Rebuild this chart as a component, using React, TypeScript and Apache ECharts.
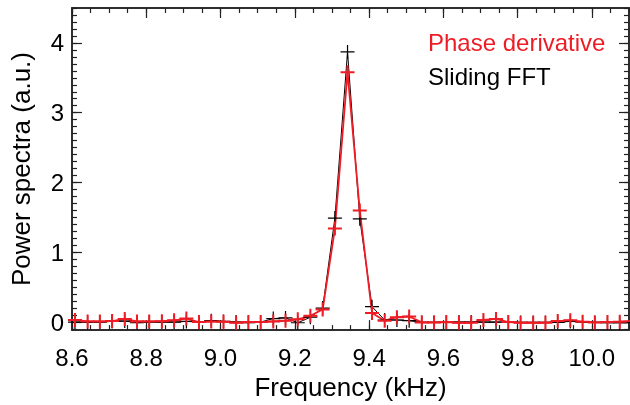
import React, { useEffect, useRef } from "react";
import * as echarts from "echarts";

// Frequency grid (kHz)
const freq = [
  8.608, 8.642, 8.675, 8.708, 8.742, 8.775, 8.808, 8.842, 8.875, 8.908,
  8.942, 8.975, 9.008, 9.042, 9.075, 9.108, 9.142, 9.175, 9.208, 9.242,
  9.275, 9.308, 9.342, 9.375, 9.408, 9.442, 9.475, 9.508, 9.542, 9.575,
  9.608, 9.642, 9.675, 9.708, 9.742, 9.775, 9.808, 9.842, 9.875, 9.908,
  9.942, 9.975, 10.008, 10.042, 10.075, 10.108,
];

// Sliding FFT (black)
const slidingFFT = [
  0.0, -0.005, 0.0, 0.01, 0.015, -0.01, 0.0, 0.0, 0.0, 0.01,
  0.0, 0.02, 0.01, 0.0, -0.01, 0.0, 0.05, 0.06, -0.01, 0.07,
  0.2, 1.49, 3.87, 1.48, 0.22, 0.03, 0.03, 0.02, -0.005, -0.005,
  0.0, 0.0, 0.0, 0.0, 0.0, 0.0, -0.005, -0.005, -0.005, -0.005,
  0.01, 0.0, -0.005, -0.01, -0.01, -0.01,
];

// Phase derivative (red)
const phaseDerivative = [
  0.03, 0.01, 0.01, 0.015, 0.045, 0.01, 0.01, 0.012, 0.025, 0.05,
  0.0, 0.01, 0.005, -0.01, 0.0, 0.0, 0.01, 0.02, 0.04, 0.09,
  0.18, 1.34, 3.58, 1.6, 0.13, 0.02, 0.07, 0.08, -0.005, -0.005,
  0.0, -0.01, -0.01, 0.03, 0.045, 0.0, -0.01, -0.01, -0.01, 0.015,
  0.025, 0.005, -0.005, 0.0, 0.005, 0.02,
];

const xMajorTicks = [8.6, 8.8, 9.0, 9.2, 9.4, 9.6, 9.8, 10.0];
const yMajorTicks = [0, 1, 2, 3, 4];
const xMinorTicks = Array.from({ length: 31 }, (_, i) => +(8.6 + i * 0.05).toFixed(2));
const yMinorTicks = Array.from({ length: 47 }, (_, i) => +(-0.1 + i * 0.1).toFixed(1));

const X_MIN = 8.6;
const X_MAX = 10.1;
const Y_MIN = -0.115;
const Y_MAX = 4.5;

const RED = "#ee1c25";
const FONT = "Liberation Sans, Arial, Helvetica, sans-serif";

const crossThin = "path://M6.4,0h1.2v6.4h6.4v1.2h-6.4v6.4h-1.2v-6.4h-6.4v-1.2h6.4z";
const crossThick = "path://M6,0h2v6h6v2h-6v6h-2v-6h-6v-2h6z";

export default function App() {
  const ref = useRef<HTMLDivElement>(null);
  useEffect(() => {
    if (!ref.current) return;
    const chart = echarts.init(ref.current, undefined, { renderer: "svg" });
    const lineStyle = { color: "#222", width: 1.5 };
    const mkX = (position: string, ticks: number[], len: number, labels: boolean, extra: any = {}) => ({
      type: "value",
      min: X_MIN,
      max: X_MAX,
      position,
      axisLine: { show: true, onZero: false, lineStyle },
      axisTick: { show: true, inside: true, length: len, customValues: ticks, lineStyle: { color: "#222", width: 1.2 } },
      axisLabel: labels
        ? { show: true, customValues: ticks, formatter: (v: number) => v.toFixed(1), fontSize: 24, color: "#000", margin: 15, fontFamily: FONT }
        : { show: false },
      splitLine: { show: false },
      ...extra,
    });
    const mkY = (position: string, ticks: number[], len: number, labels: boolean, extra: any = {}) => ({
      type: "value",
      min: Y_MIN,
      max: Y_MAX,
      position,
      axisLine: { show: true, onZero: false, lineStyle },
      axisTick: { show: true, inside: true, length: len, customValues: ticks, lineStyle: { color: "#222", width: 1.2 } },
      axisLabel: labels
        ? { show: true, customValues: ticks, formatter: (v: number) => String(Math.round(v)), fontSize: 24, color: "#000", margin: 8, fontFamily: FONT }
        : { show: false },
      splitLine: { show: false },
      ...extra,
    });
    chart.setOption({
      animation: false,
      grid: { left: 72, right: 1, top: 8, bottom: 73, containLabel: false },
      xAxis: [
        mkX("bottom", xMajorTicks, 10, true, {
          name: "Frequency (kHz)",
          nameLocation: "middle",
          nameGap: 41,
          nameTextStyle: { fontSize: 26, color: "#000", fontFamily: FONT },
        }),
        mkX("bottom", xMinorTicks, 5, false),
        mkX("top", xMajorTicks, 10, false),
        mkX("top", xMinorTicks, 5, false),
      ],
      yAxis: [
        mkY("left", yMajorTicks, 10, true, {
          name: "Power spectra (a.u.)",
          nameLocation: "middle",
          nameGap: 38,
          nameTextStyle: { fontSize: 26, color: "#000", fontFamily: FONT },
        }),
        mkY("left", yMinorTicks, 5, false),
        mkY("right", yMajorTicks, 10, false),
        mkY("right", yMinorTicks, 5, false),
      ],
      graphic: [
        {
          type: "text",
          left: 428,
          top: 30,
          style: { text: "Phase derivative", fill: RED, fontSize: 24, fontFamily: FONT },
        },
        {
          type: "text",
          left: 428,
          top: 64,
          style: { text: "Sliding FFT", fill: "#000", fontSize: 24, fontFamily: FONT },
        },
      ],
      series: [
        {
          type: "line",
          name: "Sliding FFT",
          xAxisIndex: 0,
          yAxisIndex: 0,
          data: freq.map((f, i) => [f, slidingFFT[i]]),
          symbol: crossThin,
          symbolSize: 14,
          showAllSymbol: true,
          lineStyle: { color: "#000", width: 1 },
          itemStyle: { color: "#000" },
          clip: true,
        },
        {
          type: "line",
          name: "Phase derivative",
          xAxisIndex: 0,
          yAxisIndex: 0,
          data: freq.map((f, i) => [f, phaseDerivative[i]]),
          symbol: crossThick,
          symbolSize: 14,
          showAllSymbol: true,
          lineStyle: { color: RED, width: 1.8 },
          itemStyle: { color: RED },
          clip: true,
        },
      ],
    });
    return () => chart.dispose();
  }, []);
  return <div ref={ref} style={{ position: "fixed", left: 0, top: 0, width: 630, height: 405 }} />;
}
